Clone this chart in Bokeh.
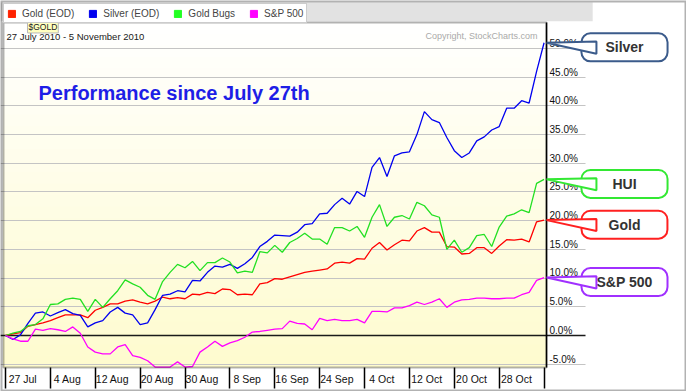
import numpy as np
from bokeh.plotting import figure
from bokeh.models import (Range1d, LinearAxis, FixedTicker, Span, BoxAnnotation, Label,
                          Legend, LegendItem, Grid, PrintfTickFormatter)
from bokeh.embed import file_html
from bokeh.resources import INLINE

# ---------------- data (trading-day index 0 = 27 Jul 2010 ... 72 = 5 Nov 2010) ----------------
date_labels = ["27 Jul", "4 Aug", "12 Aug", "20 Aug", "30 Aug", "8 Sep",
               "16 Sep", "24 Sep", "4 Oct", "12 Oct", "20 Oct", "28 Oct"]
label_days = [0, 6, 12, 18, 24, 30, 36, 42, 48, 54, 60, 66]

series_names = ["Gold (EOD)", "Silver (EOD)", "Gold Bugs", "S&P 500"]

gold = [0.0, 0.3, 0.5, 1.6, 1.9, 2.2, 2.6, 3.1, 3.6, 3.6,
        3.6, 3.1, 4.4, 4.9, 5.5, 5.5, 6.0, 6.2, 5.8, 5.5,
        6.0, 6.7, 6.4, 6.6, 6.4, 7.2, 7.1, 7.5, 7.3, 8.1,
        8.0, 7.1, 7.2, 7.1, 9.0, 9.2, 9.9, 9.8, 10.2, 10.6,
        11.0, 11.2, 11.4, 11.6, 12.6, 12.8, 12.6, 13.4, 13.3, 15.2,
        16.2, 14.9, 15.8, 16.6, 16.5, 18.2, 18.8, 18.0, 18.0, 15.5,
        15.4, 14.2, 14.3, 15.3, 15.3, 14.3, 15.6, 16.7, 16.6, 16.8,
        16.3, 19.8, 20.1]

silver = [0.0, -0.7, 0.1, 2.1, 3.9, 4.1, 3.4, 4.0, 4.5, 3.8,
          3.5, 1.5, 2.2, 2.6, 4.1, 4.9, 3.9, 3.6, 1.9, 2.2,
          4.5, 7.0, 7.2, 7.8, 7.6, 9.6, 9.5, 11.0, 12.1, 11.9,
          12.4, 11.7, 12.5, 13.6, 15.5, 16.4, 17.5, 17.4, 17.3, 18.0,
          19.3, 19.5, 21.2, 21.3, 22.8, 23.9, 22.9, 25.1, 24.2, 29.3,
          31.0, 27.7, 31.3, 31.8, 32.0, 35.0, 39.0, 37.6, 37.1, 34.5,
          32.2, 31.0, 31.8, 33.9, 34.6, 35.8, 36.4, 39.6, 39.6, 40.9,
          40.5, 46.0, 51.0]

gold_bugs = [0.0, 0.4, 0.7, 1.7, 1.9, 2.9, 5.4, 5.5, 6.3, 6.5,
             6.3, 4.2, 6.3, 4.9, 6.4, 7.8, 9.7, 9.0, 8.4, 7.0,
             6.3, 9.4, 11.0, 12.4, 11.8, 12.9, 11.3, 12.7, 12.7, 13.5,
             12.8, 10.9, 11.2, 11.0, 14.6, 14.4, 15.7, 14.5, 16.2, 16.9,
             17.8, 16.8, 16.8, 15.9, 18.8, 18.8, 18.2, 19.0, 17.1, 20.6,
             22.8, 19.0, 20.6, 20.9, 20.3, 23.2, 22.6, 21.0, 20.6, 15.0,
             16.6, 14.5, 15.3, 17.4, 17.6, 15.5, 18.9, 20.8, 21.2, 21.9,
             21.4, 26.5, 27.2]

spx = [0.0, -0.6, -1.0, -1.0, 1.1, 0.9, 1.2, 1.0, 0.7, 1.5,
       0.4, -2.0, -2.9, -3.2, -3.2, -2.0, -1.6, -3.5, -3.8, -4.4,
       -5.5, -5.5, -5.5, -4.6, -5.5, -5.4, -2.9, -2.0, -1.0, -1.9,
       -1.3, -0.9, -0.3, 0.6, 0.7, 0.9, 1.1, 1.2, 2.5, 2.1,
       2.0, 1.0, 3.0, 2.6, 2.8, 2.6, 2.6, 2.8, 2.2, 4.2,
       4.2, 4.1, 4.8, 4.8, 5.2, 5.8, 5.4, 5.8, 6.4, 4.9,
       5.8, 6.2, 6.3, 6.5, 6.5, 6.4, 6.4, 6.5, 6.5, 7.1,
       7.5, 9.6, 10.1]

days = list(range(len(gold)))
y_ticks = list(range(-5, 55, 5))

# ---------------- styling / layout ----------------
FONT = "Liberation Sans"
colors = ["#ff0000", "#0000f0", "#22e022", "#ff00ff"]
legend_colors = ["#ff2200", "#0000ee", "#22ff22", "#ff00ff"]

X0, X1 = -0.668, 91.04           # whole canvas width
Y0, Y1 = -9.756, 58.36           # whole canvas height
AREA_LEFT, AREA_TOP, AREA_BOTTOM = -0.27, 54.53, -5.575
AXIS_X = days[-1] + 0.33
GRID_END = 77.54
LABEL_SHIFT = 0.9
CALLOUT_X = 82.75

p = figure(width=686, height=391, output_backend="svg", toolbar_location=None,
           x_range=Range1d(X0, X1), y_range=Range1d(Y0, Y1),
           y_axis_location=None, min_border_left=0, min_border_right=0,
           min_border_top=0, min_border_bottom=0)
p.outline_line_color = None
p.background_fill_color = "white"
p.border_fill_color = "white"
p.extra_y_ranges = {"lab": Range1d(Y0 - LABEL_SHIFT, Y1 - LABEL_SHIFT)}
for g in p.grid:
    g.visible = False

# gradient background of the price area (white -> pale yellow)
N = 30
top_c = np.array([255, 255, 255])
bot_c = np.array([254, 251, 206])
for i in range(N):
    t = AREA_TOP - (AREA_TOP - AREA_BOTTOM) * i / N
    f = (i + 0.5) / N
    c = top_c + (bot_c - top_c) * f
    hexc = "#%02x%02x%02x" % tuple(int(round(v)) for v in c)
    p.add_layout(BoxAnnotation(left=AREA_LEFT, right=AXIS_X, bottom=AREA_BOTTOM, top=t,
                               fill_color=hexc, fill_alpha=1, line_alpha=0, level="underlay"))

p.add_layout(Grid(dimension=1, ticker=FixedTicker(ticks=y_ticks),
                  grid_line_color="#c4c4c4", grid_line_width=1))
p.add_layout(Span(location=0, dimension="width", line_color="#1a1a1a", line_width=1.3,
                  level="underlay"))
# hide grid lines beyond the value labels and outside the chart area
p.add_layout(BoxAnnotation(left=GRID_END, right=X1, bottom=Y0, top=Y1, fill_color="white",
                           fill_alpha=1, line_alpha=0, level="underlay"))
p.add_layout(BoxAnnotation(left=X0, right=X1, bottom=Y0, top=AREA_BOTTOM, fill_color="white",
                           fill_alpha=1, line_alpha=0, level="underlay"))
# grey bar behind the legend tabs
p.add_layout(BoxAnnotation(left=X0, right=78.5, bottom=AREA_TOP + 0.2, top=Y1 - 0.35,
                           fill_color="#e2e2e2", fill_alpha=1, line_alpha=0, level="underlay"))

# data lines
for ys, col in zip([gold, silver, gold_bugs, spx], colors):
    p.line(days, ys, line_color=col, line_width=1.3)

# border of the price area
p.add_layout(BoxAnnotation(left=AREA_LEFT, right=AXIS_X, bottom=AREA_BOTTOM, top=AREA_TOP,
                           fill_alpha=0, line_color="black", line_width=2))
# outer border
p.add_layout(BoxAnnotation(left=X0, right=X1, bottom=Y0, top=Y1, fill_alpha=0,
                           line_color="black", line_width=4))

# value axis at the end of the data
yax = LinearAxis(y_range_name="lab", ticker=FixedTicker(ticks=y_ticks),
                 formatter=PrintfTickFormatter(format="%.1f%%"),
                 fixed_location=AXIS_X, bounds=(AREA_BOTTOM - LABEL_SHIFT, AREA_TOP - LABEL_SHIFT),
                 axis_line_color="black", axis_line_width=1.5,
                 major_tick_out=0, major_tick_in=0, minor_tick_out=0, minor_tick_in=0,
                 major_label_standoff=3, major_label_text_font=FONT,
                 major_label_text_font_size="10px", major_label_text_color="#111111")
p.add_layout(yax, "right")

# date axis: labels
xax = p.xaxis[0]
xax.fixed_location = AREA_BOTTOM
xax.ticker = FixedTicker(ticks=[d + 2.3 for d in label_days])
xax.major_label_overrides = {d + 2.3: s for d, s in zip(label_days, date_labels)}
xax.axis_line_color = None
xax.major_tick_out = 0
xax.major_tick_in = 0
xax.minor_tick_out = 0
xax.minor_tick_in = 0
xax.major_label_standoff = 5
xax.major_label_text_font = FONT
xax.major_label_text_font_size = "10.5px"
xax.major_label_text_color = "#111111"

# date axis: separators between the date cells
sep_days = label_days + [days[-1]]
sep_axis = LinearAxis(fixed_location=AREA_BOTTOM, ticker=FixedTicker(ticks=sep_days),
                      major_label_overrides={d: "" for d in sep_days},
                      axis_line_color=None, major_tick_out=21, major_tick_in=0,
                      major_tick_line_color="black", major_tick_line_width=1.5,
                      minor_tick_out=0, minor_tick_in=0)
p.add_layout(sep_axis, "below")

# legend (row of tabs on top)
items = []
for name, col in zip(series_names, legend_colors):
    r = p.rect(x=[0], y=[float("nan")], width=1, height=1, fill_color=col, line_color=col)
    items.append(LegendItem(label=name, renderers=[r]))
leg = Legend(items=items, orientation="horizontal", location="top_left", margin=3,
             padding=3, spacing=14, glyph_width=9, glyph_height=9, label_height=12,
             label_standoff=6, label_text_font=FONT, label_text_font_size="10px",
             border_line_color="#9a9a9a", background_fill_color="white",
             background_fill_alpha=1)
p.add_layout(leg)

# texts
p.add_layout(Label(x=4.41, y=42.33, text="Performance since July 27th", text_font=FONT,
                   text_font_style="bold", text_font_size="20px", text_color="#1e1ee6",
                   text_baseline="middle"))
p.add_layout(Label(x=0.134, y=52.09, text="27 July 2010 - 5 November 2010", text_font=FONT,
                   text_font_size="9.5px", text_color="#202020", text_baseline="middle"))
p.add_layout(Label(x=2.94, y=53.75, text="$GOLD", text_font=FONT, text_font_size="8.5px",
                   text_color="#202020", text_baseline="middle",
                   background_fill_color="#ffffc0", border_line_color="#b8b8b8", padding=1))
p.add_layout(Label(x=71.12, y=52.09, text="Copyright, StockCharts.com", text_font=FONT,
                   text_font_size="9px", text_color="#aaaaaa", text_align="right",
                   text_baseline="middle"))

# callouts
callouts = [("Silver", silver[-1], "#3b5b8b", 24),
            ("HUI", gold_bugs[-1], "#33e833", 31),
            ("Gold", gold[-1], "#ff2020", 27),
            ("S&P 500", spx[-1], "#a030ff", 15)]
for text, v, col, padx in callouts:
    pad = dict(left=padx, right=padx, top=6, bottom=6)
    p.add_layout(Label(x=CALLOUT_X, y=v - 0.8, text=text, text_alpha=0, text_font=FONT,
                       text_font_style="bold", text_font_size="14px", text_align="center",
                       text_baseline="middle", background_fill_color="#777777",
                       background_fill_alpha=0.4, border_radius=9, padding=pad,
                       x_offset=3, y_offset=-3))
    p.add_layout(Label(x=CALLOUT_X, y=v - 0.8, text=text, text_font=FONT,
                       text_font_style="bold", text_font_size="14px", text_color="#333333",
                       text_align="center", text_baseline="middle",
                       background_fill_color="white", border_line_color=col,
                       border_line_width=2, border_radius=9, padding=pad))
    p.patch(x=[AXIS_X, 79.0, 79.0], y=[v, v + 0.2, v - 1.9], fill_color="white",
            line_color=col, line_width=2, level="overlay")

open("out.html", "w").write(file_html(p, INLINE))
